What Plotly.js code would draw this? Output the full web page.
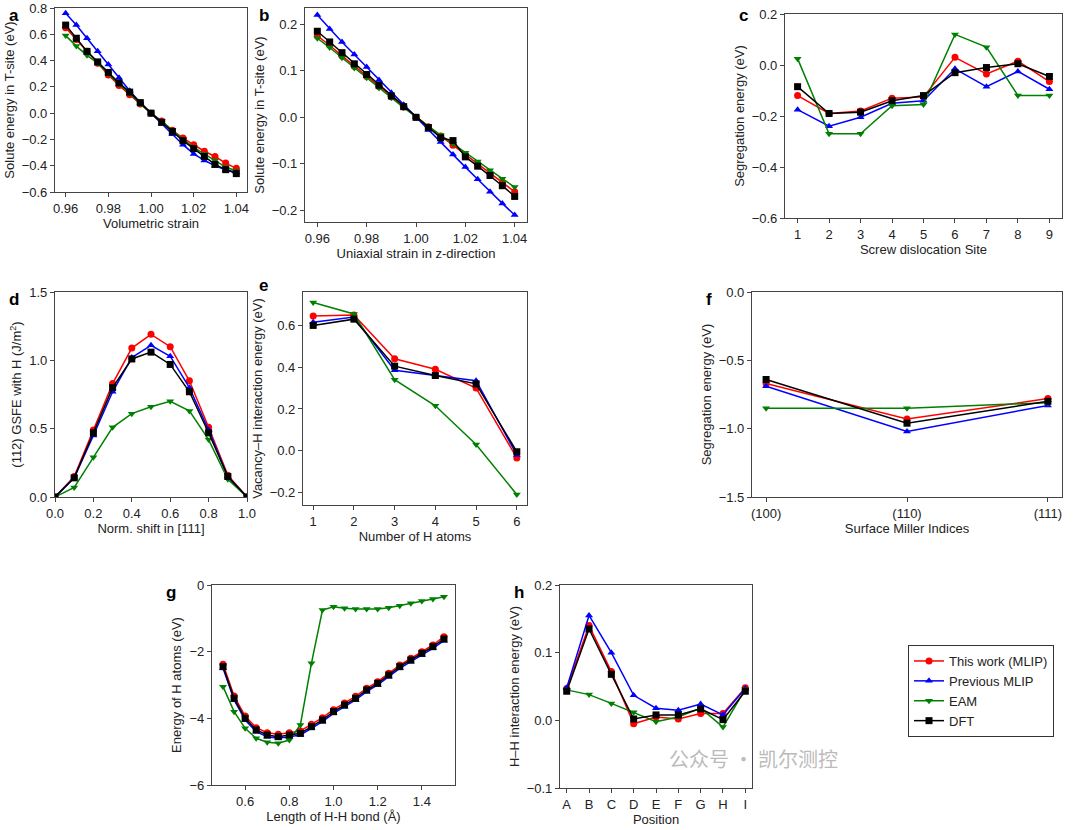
<!DOCTYPE html>
<html>
<head>
<meta charset="utf-8">
<script src="https://cdn.plot.ly/plotly-3.0.1.min.js"></script>
<style>body{margin:0;background:#fff}#chart{width:1080px;height:830px}</style>
</head>
<body>
<div id="chart"></div>
<script>
// series names, colours and markers
var names = ['This work (MLIP)', 'Previous MLIP', 'EAM', 'DFT'];
var colors = ['#ff0000', '#0000ff', '#008000', '#000000'];
var symbols = ['circle', 'triangle-up', 'triangle-down', 'square'];

// a: volumetric strain
var strain = [0.96, 0.965, 0.97, 0.975, 0.98, 0.985, 0.99, 0.995, 1.0, 1.005, 1.01, 1.015, 1.02, 1.025, 1.03, 1.035, 1.04];
var a_mlip = [0.65, 0.56, 0.47, 0.38, 0.29, 0.21, 0.14, 0.07, 0, -0.06, -0.13, -0.19, -0.24, -0.29, -0.33, -0.38, -0.42];
var a_prev = [0.76, 0.67, 0.57, 0.47, 0.37, 0.27, 0.17, 0.08, 0, -0.08, -0.16, -0.24, -0.31, -0.36, -0.40, -0.43, -0.45];
var a_eam = [0.59, 0.51, 0.44, 0.38, 0.30, 0.22, 0.15, 0.07, 0, -0.06, -0.13, -0.20, -0.26, -0.31, -0.36, -0.41, -0.44];
var a_dft = [0.67, 0.57, 0.47, 0.39, 0.31, 0.23, 0.16, 0.08, 0, -0.07, -0.14, -0.21, -0.27, -0.33, -0.39, -0.43, -0.46];

// b: uniaxial strain
var b_mlip = [0.175, 0.155, 0.132, 0.11, 0.088, 0.066, 0.044, 0.022, 0, -0.02, -0.04, -0.06, -0.08, -0.10, -0.12, -0.14, -0.16];
var b_prev = [0.22, 0.19, 0.162, 0.135, 0.108, 0.08, 0.053, 0.027, 0, -0.027, -0.053, -0.08, -0.107, -0.133, -0.16, -0.185, -0.21];
var b_eam = [0.17, 0.15, 0.128, 0.106, 0.085, 0.063, 0.042, 0.021, 0, -0.019, -0.038, -0.057, -0.076, -0.095, -0.114, -0.132, -0.15];
var b_dft = [0.185, 0.162, 0.139, 0.115, 0.092, 0.069, 0.046, 0.023, 0, -0.022, -0.044, -0.05, -0.085, -0.105, -0.125, -0.147, -0.17];

// c: screw dislocation sites
var sites = [1, 2, 3, 4, 5, 6, 7, 8, 9];
var c_mlip = [-0.12, -0.19, -0.18, -0.13, -0.125, 0.03, -0.035, 0.015, -0.065];
var c_prev = [-0.175, -0.24, -0.205, -0.15, -0.14, -0.015, -0.085, -0.025, -0.095];
var c_eam = [0.025, -0.27, -0.27, -0.16, -0.155, 0.12, 0.07, -0.12, -0.12];
var c_dft = [-0.085, -0.19, -0.185, -0.14, -0.12, -0.03, -0.01, 0.005, -0.045];

// d: GSFE
var shift = [0, 0.1, 0.2, 0.3, 0.4, 0.5, 0.6, 0.7, 0.8, 0.9, 1.0];
var d_mlip = [0, 0.15, 0.49, 0.83, 1.09, 1.19, 1.10, 0.85, 0.51, 0.16, 0];
var d_prev = [0, 0.14, 0.45, 0.77, 1.02, 1.11, 1.03, 0.80, 0.49, 0.15, 0];
var d_eam = [0, 0.07, 0.29, 0.51, 0.61, 0.66, 0.70, 0.63, 0.42, 0.13, 0];
var d_dft = [0, 0.14, 0.47, 0.80, 1.01, 1.06, 0.97, 0.77, 0.47, 0.15, 0];

// e: vacancy-H
var nH = [1, 2, 3, 4, 5, 6];
var e_mlip = [0.645, 0.65, 0.44, 0.39, 0.30, -0.035];
var e_prev = [0.615, 0.64, 0.385, 0.36, 0.335, -0.02];
var e_eam = [0.71, 0.655, 0.34, 0.215, 0.03, -0.21];
var e_dft = [0.60, 0.63, 0.405, 0.36, 0.32, -0.005];

// f: surfaces
var surfaces = ['(100)', '(110)', '(111)'];
var f_mlip = [-0.67, -0.93, -0.78];
var f_prev = [-0.69, -1.02, -0.83];
var f_eam = [-0.85, -0.85, -0.81];
var f_dft = [-0.64, -0.96, -0.80];

// g: H-H bond length
var bond = [0.5, 0.55, 0.6, 0.65, 0.7, 0.75, 0.8, 0.85, 0.9, 0.95, 1.0, 1.05, 1.1, 1.15, 1.2, 1.25, 1.3, 1.35, 1.4, 1.45, 1.5];
var g_mlip = [-2.38, -3.33, -3.93, -4.28, -4.43, -4.48, -4.43, -4.38, -4.18, -3.98, -3.74, -3.54, -3.34, -3.1, -2.9, -2.65, -2.4, -2.2, -2.0, -1.8, -1.55];
var g_prev = [-2.5, -3.45, -4.05, -4.4, -4.55, -4.6, -4.55, -4.5, -4.3, -4.1, -3.85, -3.65, -3.45, -3.2, -3.0, -2.75, -2.5, -2.3, -2.1, -1.9, -1.67];
var g_eam = [-3.05, -3.8, -4.3, -4.6, -4.72, -4.75, -4.65, -4.2, -2.35, -0.75, -0.65, -0.7, -0.72, -0.72, -0.72, -0.68, -0.62, -0.55, -0.48, -0.42, -0.35];
var g_dft = [-2.45, -3.4, -4.0, -4.35, -4.5, -4.55, -4.5, -4.45, -4.25, -4.05, -3.8, -3.6, -3.4, -3.15, -2.95, -2.7, -2.45, -2.25, -2.05, -1.85, -1.62];

// h: H-H interaction positions
var positions = ['A', 'B', 'C', 'D', 'E', 'F', 'G', 'H', 'I'];
var h_mlip = [0.047, 0.14, 0.072, -0.005, 0.005, 0.002, 0.01, 0.01, 0.048];
var h_prev = [0.048, 0.155, 0.1, 0.037, 0.018, 0.015, 0.024, 0.008, 0.047];
var h_eam = [0.045, 0.038, 0.025, 0.012, -0.002, 0.005, 0.018, -0.01, 0.046];
var h_dft = [0.043, 0.135, 0.068, 0.002, 0.008, 0.008, 0.017, 0.001, 0.043];

var W = 1080, H = 830;
var font = {family: 'Liberation Sans, Arial, sans-serif', size: 13, color: '#222'};

// pixel boxes [left, right, top, bottom] of each panel, letter position [x, y]
var panels = [
  {id: '', box: [55, 247, 8, 192], x: strain, ys: [a_mlip, a_prev, a_eam, a_dft], xt: 'Volumetric strain', yt: 'Solute energy in T-site (eV)',
   xr: [0.955, 1.045], yr: [-0.6, 0.8], xd: 0.02, yd: 0.2, xf: '.2f', yf: '.1f', lab: 'a', lp: [7, 4]},
  {id: '2', box: [305, 527, 8, 222], x: strain, ys: [b_mlip, b_prev, b_eam, b_dft], xt: 'Uniaxial strain in z-direction', yt: 'Solute energy in T-site (eV)',
   xr: [0.955, 1.045], yr: [-0.225, 0.235], xd: 0.02, yd: 0.1, xf: '.2f', yf: '.1f', lab: 'b', lp: [257, 4]},
  {id: '3', box: [785, 1062, 14, 218], x: sites, ys: [c_mlip, c_prev, c_eam, c_dft], xt: 'Screw dislocation Site', yt: 'Segregation energy (eV)',
   xr: [0.6, 9.4], yr: [-0.6, 0.2], xd: 1, yd: 0.2, xf: 'd', yf: '.1f', lab: 'c', lp: [737, 4]},
  {id: '4', box: [55, 247, 292, 497], x: shift, ys: [d_mlip, d_prev, d_eam, d_dft], xt: 'Norm. shift in [111]', yt: '(112) GSFE with H (J/m<sup>2</sup>)',
   xr: [0, 1], yr: [0, 1.5], xd: 0.2, yd: 0.5, xf: '.1f', yf: '.1f', lab: 'd', lp: [7, 288]},
  {id: '5', box: [303, 527, 292, 505], x: nH, ys: [e_mlip, e_prev, e_eam, e_dft], xt: 'Number of H atoms', yt: 'Vacancy–H interaction energy (eV)',
   xr: [0.75, 6.25], yr: [-0.26, 0.76], xd: 1, yd: 0.2, xf: 'd', yf: '.1f', lab: 'e', lp: [257, 274]},
  {id: '6', box: [752, 1062, 292, 497], x: surfaces, ys: [f_mlip, f_prev, f_eam, f_dft], xt: 'Surface Miller Indices', yt: 'Segregation energy (eV)',
   xr: [-0.1, 2.1], yr: [-1.5, 0], xd: null, yd: 0.5, xf: '', yf: '.1f', lab: 'f', lp: [704, 288]},
  {id: '7', box: [212, 455, 585, 785], x: bond, ys: [g_mlip, g_prev, g_eam, g_dft], xt: 'Length of H-H bond (Å)', yt: 'Energy of H atoms (eV)',
   xr: [0.45, 1.55], yr: [-6, 0], xd: 0.2, yd: 2, xf: '.1f', yf: 'd', lab: 'g', lp: [164, 581]},
  {id: '8', box: [560, 752, 585, 788], x: positions, ys: [h_mlip, h_prev, h_eam, h_dft], xt: 'Position', yt: 'H–H interaction energy (eV)',
   xr: [-0.3, 8.3], yr: [-0.1, 0.2], xd: null, yd: 0.1, xf: '', yf: '.1f', lab: 'h', lp: [512, 581]}
];

var data = [];
var layout = {
  width: W, height: H, margin: {l: 0, r: 0, t: 0, b: 0},
  paper_bgcolor: '#fff', plot_bgcolor: '#fff', font: font,
  showlegend: true,
  legend: {x: 908 / W, y: 1 - 645 / H, xanchor: 'left', yanchor: 'top', bordercolor: '#333', borderwidth: 1,
           font: {family: font.family, size: 13, color: '#222'}, tracegroupgap: 0},
  annotations: []
};

panels.forEach(function (p, k) {
  var xa = 'xaxis' + p.id, ya = 'yaxis' + p.id;
  p.ys.forEach(function (y, i) {
    data.push({
      x: p.x, y: y, xaxis: 'x' + p.id, yaxis: 'y' + p.id,
      type: 'scatter', mode: 'lines+markers', name: names[i],
      legendgroup: names[i], showlegend: k == 7,
      line: {color: colors[i], width: 1.5},
      marker: {color: colors[i], symbol: symbols[i], size: 7}
    });
  });
  var axBase = {showline: true, mirror: true, linecolor: '#444', linewidth: 1.2, ticks: 'outside', ticklen: 4,
                tickcolor: '#444', showgrid: false, zeroline: false, tickfont: {size: 13, color: '#222'}};
  layout[xa] = Object.assign({}, axBase, {
    domain: [p.box[0] / W, p.box[1] / W], anchor: 'y' + p.id, range: p.xr,
    title: {text: p.xt, font: {size: 13}, standoff: 4}
  });
  if (p.xd) { layout[xa].dtick = p.xd; layout[xa].tick0 = 0; layout[xa].tickformat = p.xf; }
  else { layout[xa].type = 'category'; }
  layout[ya] = Object.assign({}, axBase, {
    domain: [1 - p.box[3] / H, 1 - p.box[2] / H], anchor: 'x' + p.id, range: p.yr,
    dtick: p.yd, tick0: 0, tickformat: p.yf,
    title: {text: p.yt, font: {size: 13}, standoff: 4}
  });
  layout.annotations.push({
    text: '<b>' + p.lab + '</b>', xref: 'paper', yref: 'paper', showarrow: false,
    x: p.lp[0] / W, y: 1 - p.lp[1] / H, xanchor: 'left', yanchor: 'top',
    font: {size: 17, color: '#000'}
  });
});

layout.annotations.push({
  text: '公众号 · 凯尔测控', xref: 'paper', yref: 'paper', showarrow: false,
  x: 840 / W, y: 1 - 775 / H, font: {family: 'Noto Sans CJK SC', size: 20, color: '#bbb'}
});

Plotly.newPlot('chart', data, layout, {displayModeBar: false});
</script>
</body>
</html>
